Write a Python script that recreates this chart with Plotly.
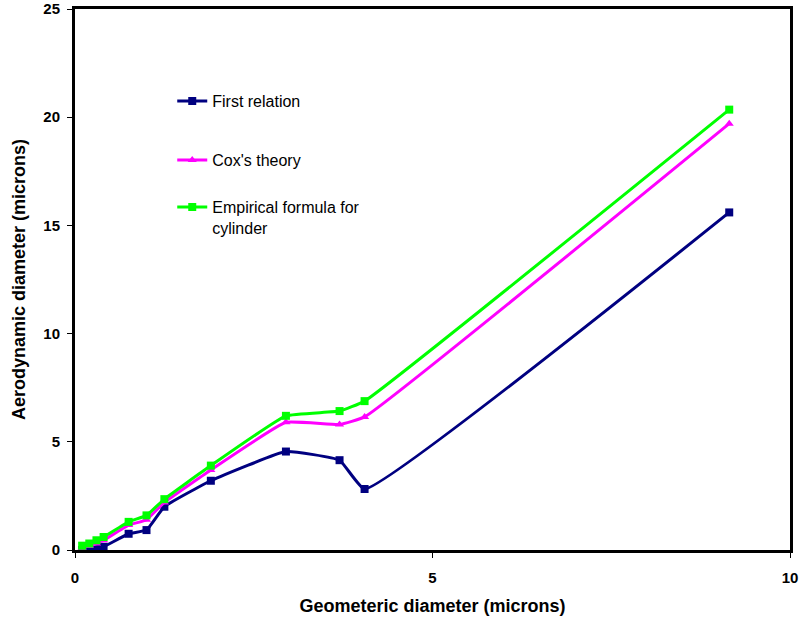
import plotly.graph_objects as go

x_vals = [0.1, 0.2, 0.3, 0.4, 0.75, 1.0, 1.25, 1.9, 2.95, 3.7, 4.05, 9.15]
first_relation = [0.0, 0.02, 0.06, 0.15, 0.75, 0.92, 2.0, 3.2, 4.55, 4.15, 2.82, 15.6]
cox_theory = [0.1, 0.18, 0.3, 0.45, 1.15, 1.4, 2.2, 3.7, 5.9, 5.8, 6.15, 19.7]
empirical = [0.2, 0.3, 0.45, 0.6, 1.3, 1.6, 2.35, 3.9, 6.2, 6.42, 6.88, 20.35]

series = [
    ("First relation", first_relation, "#000080", "square", "legend"),
    ("Cox's theory", cox_theory, "#FF00FF", "triangle-up", "legend2"),
    ("Empirical formula for<br>cylinder", empirical, "#00FF00", "square", "legend3"),
]

fig = go.Figure()
for name, ys, col, sym, leg in series:
    fig.add_trace(go.Scatter(
        x=x_vals, y=ys, name=name, mode="lines+markers",
        line=dict(color=col, width=3, shape="spline", smoothing=0.35),
        marker=dict(color=col, symbol=sym, size=8),
        legend=leg,
    ))

FONT = "Liberation Sans, Arial"
axis_common = dict(
    showline=True, linecolor="black", linewidth=3, mirror=True,
    ticks="outside", ticklen=5, tickcolor="black", showgrid=False, zeroline=False,
    automargin=False,
    tickfont=dict(family=FONT, size=15, color="black", weight="bold"),
)

leg_common = dict(xanchor="left", yanchor="top", valign="top",
                  font=dict(family=FONT, size=16, color="black"),
                  bgcolor="rgba(0,0,0,0)", itemwidth=30)

fig.update_layout(
    width=799, height=620,
    paper_bgcolor="white", plot_bgcolor="white",
    margin=dict(l=75, r=9, t=9, b=70),
    xaxis=dict(range=[0, 10], dtick=5, ticklabelstandoff=7, **axis_common,
               title=dict(text="<b>Geometeric diameter (microns)</b>",
                          font=dict(family=FONT, size=18, color="black"),
                          standoff=15)),
    yaxis=dict(range=[0, 25], dtick=5, ticklabelstandoff=4, **axis_common,
               title=dict(text="<b>Aerodynamic diameter (microns)</b>",
                          font=dict(family=FONT, size=18, color="black"),
                          standoff=14)),
    legend=dict(x=0.136, y=0.8614, **leg_common),
    legend2=dict(x=0.136, y=0.7523, **leg_common),
    legend3=dict(x=0.136, y=0.6654, **leg_common),
    showlegend=True,
)

fig.write_html("out.html", config={"displayModeBar": False},
               post_script="document.body.style.margin='0';document.body.style.overflow='hidden';")
